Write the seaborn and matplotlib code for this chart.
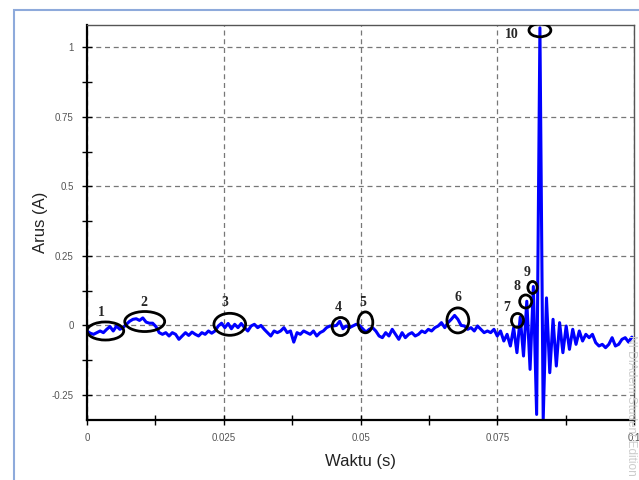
import numpy as np
import pandas as pd
import matplotlib
matplotlib.use("Agg")
import matplotlib.pyplot as plt
import seaborn as sns
from matplotlib.patches import Ellipse, Rectangle
from matplotlib.ticker import MultipleLocator, FuncFormatter

# sampled current, one value every 0.6 ms (A)
dt = 0.0006
arus = [
    -0.020, -0.028, -0.032, -0.026, -0.020, -0.026, -0.014, -0.004, -0.020, -0.002,
    -0.014, -0.008, 0.004, 0.015, 0.022, 0.024, 0.018, 0.027, 0.012, 0.008,
    0.008, -0.004, -0.026, -0.032, -0.026, -0.038, -0.026, -0.032, -0.050, -0.038,
    -0.026, -0.036, -0.024, -0.032, -0.038, -0.026, -0.032, -0.020, -0.028, -0.020,
    -0.002, 0.008, -0.008, 0.007, -0.012, 0.004, -0.008, 0.007, -0.008, -0.020,
    -0.002, 0.004, -0.008, 0.000, -0.014, -0.026, -0.038, -0.020, -0.026,
    -0.020, -0.008, -0.026, -0.020, -0.060, -0.026, -0.032, -0.020, -0.026, -0.032,
    -0.020, -0.038, -0.026, -0.020, -0.008, -0.002, -0.002, 0.000, 0.015, -0.012,
    -0.002, -0.008, -0.002, 0.004, 0.000, -0.012, -0.024, -0.014, -0.008, -0.020,
    -0.038, -0.044, -0.026, -0.038, -0.014, -0.032, -0.050, -0.026, -0.044, -0.032,
    -0.026, -0.038, -0.032, -0.020, -0.026, -0.014, -0.020, -0.008, -0.002, 0.010,
    -0.008, 0.010, 0.022, 0.036, 0.022, 0.000, -0.002, -0.014, -0.008, -0.020,
    -0.002, -0.014, -0.026, -0.020,
    -0.026, -0.014, -0.038, -0.020, -0.056, -0.032, -0.074, -0.008, -0.098, 0.030,
    -0.110, 0.087, -0.158, 0.140, -0.320, 1.070, -0.338, 0.099, -0.170, 0.022,
    -0.146, 0.010, -0.098, -0.002, -0.086, -0.014, -0.068, -0.020, -0.056, -0.032,
    -0.044, -0.032, -0.062, -0.074, -0.068, -0.080, -0.068, -0.044, -0.074, -0.068,
    -0.050, -0.044, -0.060, -0.042,
]
waktu = np.arange(len(arus)) * dt

# marked peaks: label, ellipse centre (s, A), ellipse size, label position
tanda = ["1", "2", "3", "4", "5", "6", "7", "8", "9", "10"]
pusat_t = [0.00336, 0.01055, 0.0261, 0.04636, 0.0509, 0.0678, 0.0787, 0.0802, 0.08145, 0.0828]
pusat_a = [-0.020, 0.014, 0.004, -0.004, 0.011, 0.018, 0.018, 0.086, 0.1365, 1.061]
lebar = [0.0067, 0.0073, 0.0058, 0.0031, 0.0027, 0.0040, 0.0022, 0.0022, 0.0017, 0.0040]
tinggi = [0.065, 0.072, 0.079, 0.065, 0.075, 0.090, 0.050, 0.047, 0.043, 0.047]
label_t = [0.0027, 0.0104, 0.0253, 0.0460, 0.0505, 0.0678, 0.0767, 0.0786, 0.0804, 0.0777]
label_a = [0.047, 0.083, 0.083, 0.065, 0.083, 0.101, 0.065, 0.140, 0.190, 1.046]

df = pd.DataFrame({"Waktu": waktu, "Arus": arus})

sns.set_style("white")
plt.rcParams["font.family"] = ["Liberation Sans", "DejaVu Sans"]

fig = plt.figure(figsize=(6.39, 4.80), dpi=100)
ax = fig.add_axes([87/639, 1 - 420/480, (634 - 87)/639, (420 - 25)/480])

sns.lineplot(data=df, x="Waktu", y="Arus", ax=ax, color="#0000ff", linewidth=2.2)

for i in range(len(tanda)):
    ax.add_patch(Ellipse((pusat_t[i], pusat_a[i]), lebar[i], tinggi[i],
                         fill=False, edgecolor="black", linewidth=2, zorder=5))
    ax.text(label_t[i], label_a[i], tanda[i], family="Liberation Serif",
            fontweight="bold", fontsize=10, ha="center", va="center", zorder=6)

ax.set_xlim(0, 0.1)
ax.set_ylim(-0.34, 1.08)
ax.xaxis.set_major_locator(MultipleLocator(0.025))
ax.xaxis.set_minor_locator(MultipleLocator(0.0125))
ax.yaxis.set_major_locator(MultipleLocator(0.25))
ax.yaxis.set_minor_locator(MultipleLocator(0.125))
fmt = FuncFormatter(lambda v, p: "{:g}".format(round(v, 4)))
ax.xaxis.set_major_formatter(fmt)
ax.yaxis.set_major_formatter(fmt)

ax.grid(True, which="major", linestyle=(0, (4, 3)), color="#777777", linewidth=0.9)
ax.tick_params(which="both", direction="inout", length=7, width=1, color="black",
               labelsize=7, labelcolor="#555555", bottom=True, left=True)
ax.tick_params(axis="x", pad=6)
ax.tick_params(axis="y", pad=6)

for s in ["left", "bottom"]:
    ax.spines[s].set_color("black")
    ax.spines[s].set_linewidth(1.6)
for s in ["top", "right"]:
    ax.spines[s].set_color("#555555")
    ax.spines[s].set_linewidth(1.0)

ax.set_xlabel("Waktu (s)", fontsize=12, color="#222222", labelpad=8)
ax.set_ylabel("Arus (A)", fontsize=12, color="#222222", labelpad=3)

fig.patches.append(Rectangle((14/639, -0.1), 1.0, 1 - 10/480 + 0.1, transform=fig.transFigure,
                             fill=False, edgecolor="#8eaadb", linewidth=1.5))
fig.text(631/639, 1 - 335/480, "NI DIAdem Student Edition", rotation=270,
         fontsize=8.5, color="#cccccc", ha="center", va="top")

plt.savefig("out.png", dpi=100)
